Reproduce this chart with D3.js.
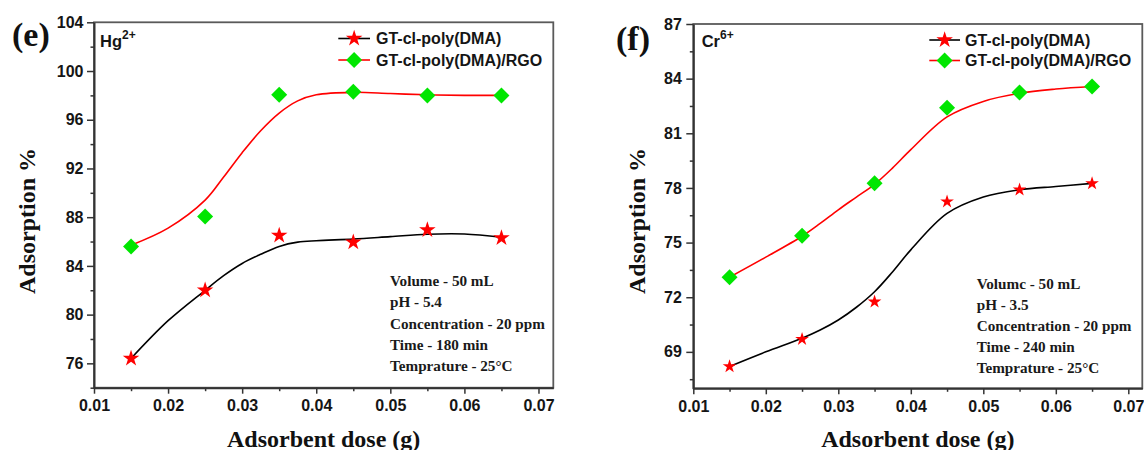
<!DOCTYPE html>
<html>
<head>
<meta charset="utf-8">
<script src="https://cdn.jsdelivr.net/npm/d3@7"></script>
<style>
  html, body { margin: 0; padding: 0; background: #fff; }
  svg { display: block; }
</style>
</head>
<body>
<svg id="chart" width="1144" height="450"></svg>
<script>
// ---------------- data ----------------
const doses = [0.015, 0.025, 0.035, 0.045, 0.055, 0.065];

// Panel (e) Hg2+
const hgPoly = [76.4, 82.0, 86.5, 85.95, 86.95, 86.3];
const hgRGO  = [85.6, 88.05, 98.05, 98.3, 98.0, 98.0];

// Panel (f) Cr6+
const crPoly = [68.2, 69.7, 71.75, 77.25, 77.9, 78.25];
const crRGO  = [73.1, 75.37, 78.26, 82.4, 83.24, 83.57];

// Fitted smooth curves
const fitDoses  = [0.015, 0.02, 0.025, 0.0275, 0.03, 0.0325, 0.035, 0.0375, 0.04, 0.045, 0.05, 0.055, 0.06, 0.065];
const hgPolyFit = [76.4, 79.5, 82.0, 83.2, 84.2, 84.95, 85.6, 85.95, 86.07, 86.2, 86.4, 86.6, 86.62, 86.35];
const hgRGOFit  = [85.7, 87.1, 89.4, 91.3, 93.3, 95.1, 96.55, 97.55, 98.05, 98.25, 98.15, 98.05, 98.0, 98.0];
const crPolyFit = [68.2, 69.0, 69.75, 70.2, 70.75, 71.45, 72.3, 73.4, 74.6, 76.6, 77.5, 77.9, 78.08, 78.25];
const crRGOFit  = [73.1, 74.2, 75.35, 76.05, 76.8, 77.5, 78.2, 79.1, 80.1, 81.9, 82.75, 83.2, 83.43, 83.57];

const xTicks = [0.01, 0.02, 0.03, 0.04, 0.05, 0.06, 0.07];
const xMinor = [0.015, 0.025, 0.035, 0.045, 0.055, 0.065];
const hgTicks = [76, 80, 84, 88, 92, 96, 100, 104];
const hgMinor = [74, 78, 82, 86, 90, 94, 98, 102];
const crTicks = [69, 72, 75, 78, 81, 84, 87];
const crMinor = [67.5, 70.5, 73.5, 76.5, 79.5, 82.5, 85.5];

const seriesNames = ["GT-cl-poly(DMA)", "GT-cl-poly(DMA)/RGO"];
const hgNotes = ["Volume - 50 mL", "pH - 5.4", "Concentration - 20 ppm", "Time - 180 min", "Temprature - 25\u00B0C"];
const crNotes = ["Volumc - 50 mL", "pH - 3.5", "Concentration - 20 ppm", "Time - 240 min", "Temprature - 25\u00B0C"];

// ---------------- drawing ----------------
const svg = d3.select("#chart");
const SANS = "'Liberation Sans', Arial, sans-serif";
const SERIF = "'Liberation Serif', 'Times New Roman', serif";
const GREEN = "#00e600";

const panels = [
  {
    left: 94, right: 553.3, top: 22.3, bottom: 387.7,
    xDom: [0.01, 0.072], yDom: [74, 104],
    yTicks: hgTicks, yMinor: hgMinor, yFmt: d3.format("d"),
    poly: hgPoly, rgo: hgRGO, polyFit: hgPolyFit, rgoFit: hgRGOFit,
    tag: "(e)", tagX: 12, tagY: 46,
    ion: "Hg", ionSup: "2+", ionX: 100, ionY: 47,
    ylabX: 35, tickPad: 3.5,
    leg: { x0: 338.3, x1: 370, tx: 376, y: 38.5, dy: 21.5 },
    notes: hgNotes, noteX: 390, noteY: 286, noteDy: 21.3,
    starSize: 85
  },
  {
    left: 693.3, right: 1142.3, top: 24, bottom: 388.3,
    xDom: [0.01, 0.07193], yDom: [67, 87],
    yTicks: crTicks, yMinor: crMinor, yFmt: d3.format("d"),
    poly: crPoly, rgo: crRGO, polyFit: crPolyFit, rgoFit: crRGOFit,
    tag: "(f)", tagX: 616, tagY: 50,
    ion: "Cr", ionSup: "6+", ionX: 701.7, ionY: 46.5,
    ylabX: 645, tickPad: 4.5,
    leg: { x0: 929.3, x1: 960, tx: 965, y: 40, dy: 20.5 },
    notes: crNotes, noteX: 976.7, noteY: 288.5, noteDy: 21.1,
    starSize: 58
  }
];

panels.forEach(p => {
  const x = d3.scaleLinear().domain(p.xDom).range([p.left, p.right]);
  const y = d3.scaleLinear().domain(p.yDom).range([p.bottom, p.top]);
  const g = svg.append("g");

  // frame
  g.append("rect")
    .attr("x", p.left).attr("y", p.top)
    .attr("width", p.right - p.left).attr("height", p.bottom - p.top)
    .attr("fill", "none").attr("stroke", "#5a5a5a").attr("stroke-width", 1.8);

  // minor ticks
  g.append("g").attr("transform", `translate(0,${p.bottom})`)
    .call(d3.axisBottom(x).tickValues(xMinor).tickSize(3.5).tickSizeOuter(0).tickFormat(""))
    .call(a => a.select(".domain").remove());
  g.append("g").attr("transform", `translate(${p.left},0)`)
    .call(d3.axisLeft(y).tickValues(p.yMinor).tickSize(3.5).tickSizeOuter(0).tickFormat(""))
    .call(a => a.select(".domain").remove());

  // major axes
  const xa = g.append("g").attr("transform", `translate(0,${p.bottom})`)
    .call(d3.axisBottom(x).tickValues(xTicks).tickSize(6).tickSizeOuter(0).tickPadding(6).tickFormat(d3.format(".2f")));
  const ya = g.append("g").attr("transform", `translate(${p.left},0)`)
    .call(d3.axisLeft(y).tickValues(p.yTicks).tickSize(7).tickSizeOuter(0).tickPadding(p.tickPad).tickFormat(p.yFmt));
  [xa, ya].forEach(a => {
    a.select(".domain").attr("stroke", "#333").attr("stroke-width", 2);
    a.selectAll(".tick text").attr("font-family", SANS).attr("font-weight", "bold")
      .attr("font-size", 16).attr("fill", "#151515");
  });
  g.selectAll(".tick line").attr("stroke", "#333").attr("stroke-width", 1.5);

  // fitted curves
  const line = d3.line().x((d, i) => x(fitDoses[i])).y(d => y(d)).curve(d3.curveCatmullRom.alpha(0.5));
  g.append("path").datum(p.polyFit).attr("d", line)
    .attr("fill", "none").attr("stroke", "#000").attr("stroke-width", 1.6);
  g.append("path").datum(p.rgoFit).attr("d", line)
    .attr("fill", "none").attr("stroke", "#ff0000").attr("stroke-width", 1.6);

  const star = d3.symbol().type(d3.symbolStar).size(p.starSize);
  const diamond = d3.symbol().type(d3.symbolSquare).size(128);

  g.selectAll(".dia").data(p.rgo).join("path")
    .attr("d", diamond)
    .attr("transform", (d, i) => `translate(${x(doses[i])},${y(d)}) rotate(45)`)
    .attr("fill", GREEN);
  g.selectAll(".star").data(p.poly).join("path")
    .attr("d", star)
    .attr("transform", (d, i) => `translate(${x(doses[i])},${y(d)})`)
    .attr("fill", "#ff0000");

  // legend
  const L = p.leg;
  [0, 1].forEach(k => {
    const ly = L.y + k * L.dy;
    g.append("line").attr("x1", L.x0).attr("x2", L.x1).attr("y1", ly).attr("y2", ly)
      .attr("stroke", k === 0 ? "#000" : "#ff0000").attr("stroke-width", 1.6);
    const mx = (L.x0 + L.x1) / 2;
    if (k === 0) {
      g.append("path").attr("d", d3.symbol().type(d3.symbolStar).size(85))
        .attr("transform", `translate(${mx},${ly})`).attr("fill", "#ff0000");
    } else {
      g.append("path").attr("d", diamond)
        .attr("transform", `translate(${mx},${ly}) rotate(45)`).attr("fill", GREEN);
    }
    g.append("text").attr("x", L.tx).attr("y", ly + 5.5)
      .attr("font-family", SANS).attr("font-weight", "bold").attr("font-size", 16)
      .attr("fill", "#151515").text(seriesNames[k]);
  });

  // ion label
  const ion = g.append("text").attr("x", p.ionX).attr("y", p.ionY)
    .attr("font-family", SANS).attr("font-weight", "bold").attr("font-size", 16.5).attr("fill", "#151515");
  ion.append("tspan").text(p.ion);
  ion.append("tspan").attr("dy", -8).attr("font-size", 12).text(p.ionSup);

  // panel tag
  g.append("text").attr("x", p.tagX).attr("y", p.tagY)
    .attr("font-family", SERIF).attr("font-weight", "bold").attr("font-size", 34)
    .attr("fill", "#111").text(p.tag);

  // condition notes
  g.selectAll(".note").data(p.notes).join("text")
    .attr("x", p.noteX).attr("y", (d, i) => p.noteY + i * p.noteDy)
    .attr("font-family", SERIF).attr("font-weight", "bold").attr("font-size", 15.2)
    .attr("fill", "#1a1a1a").text(d => d);

  // axis titles
  g.append("text").attr("x", (p.left + p.right) / 2).attr("y", 446.5)
    .attr("text-anchor", "middle").attr("font-family", SERIF).attr("font-weight", "bold")
    .attr("font-size", 24).attr("fill", "#111").text("Adsorbent dose (g)");
  g.append("text").attr("transform", `translate(${p.ylabX},221) rotate(-90)`)
    .attr("text-anchor", "middle").attr("font-family", SERIF).attr("font-weight", "bold")
    .attr("font-size", 24).attr("fill", "#111").text("Adsorption %");
});
</script>
</body>
</html>
